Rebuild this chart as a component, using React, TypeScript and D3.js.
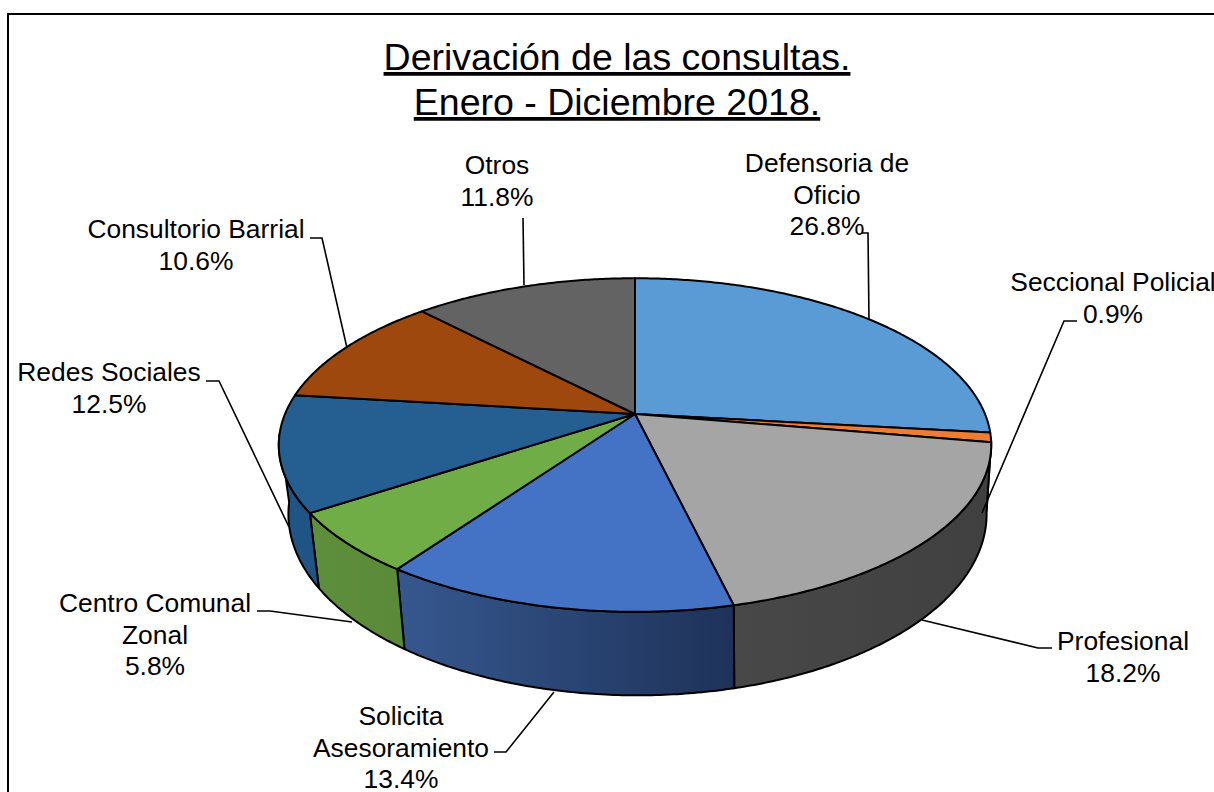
import React from "react";
import * as d3 from "d3";

const titleLines = ["Derivación de las consultas.", "Enero - Diciembre 2018."];
const categories = ["Defensoria de Oficio", "Seccional Policial", "Profesional", "Solicita Asesoramiento", "Centro Comunal Zonal", "Redes Sociales", "Consultorio Barrial", "Otros"];
const values = [26.8, 0.9, 18.2, 13.4, 5.8, 12.5, 10.6, 11.8];
const topColors = ["#5B9BD5", "#ED7D31", "#A5A5A5", "#4472C4", "#70AD47", "#255E91", "#9E480E", "#636363"];
const wallLeft = ["#3d6a94", "#8a4a1c", "#484848", "#36588f", "#5e8f3c", "#1f5485", "#6e320a", "#454545"];
const wallRight = ["#3d6a94", "#8a4a1c", "#404040", "#1e3259", "#5a8a38", "#1f5485", "#6e320a", "#454545"];

const labelLines = [
  ["Defensoria de", "Oficio", "26.8%"],
  ["Seccional Policial", "0.9%"],
  ["Profesional", "18.2%"],
  ["Solicita", "Asesoramiento", "13.4%"],
  ["Centro Comunal", "Zonal", "5.8%"],
  ["Redes Sociales", "12.5%"],
  ["Consultorio Barrial", "10.6%"],
  ["Otros", "11.8%"],
];
const labelPos = [
  [827, 172], [1113, 291], [1123, 650], [401, 725], [155, 612], [109, 381], [196, 238], [497, 174],
];
const leaders = [
  [[862, 233], [868, 233], [869, 320]],
  [[1077, 321], [1064, 321], [982, 513]],
  [[1052, 648], [1038, 648], [922, 620]],
  [[494, 752], [506, 752], [554, 692]],
  [[257, 611], [270, 611], [352, 622]],
  [[206, 381], [219, 381], [289, 527]],
  [[310, 238], [322, 238], [347, 348]],
  [[523, 218], [523, 218], [524, 285]],
];

const hubX = 635, hubY = 414;
const persp = 0.186, scaleX = 350, scaleY = 161;
const rad = Math.PI / 180;
// Excel's 3D view bends the slice angles a little: nominal angle -> drawn angle (degrees)
const viewAngle = d3.scaleLinear()
  .domain([0, 96.5, 165.2, 213.5, 234.4, 279.4, 317.5, 360].map((d) => d * rad))
  .range([0, 96.5, 166.6, 215.2, 236.5, 276.9, 316.3, 360].map((d) => d * rad));

function top(theta: number): [number, number] {
  const u = Math.sin(theta), v = -Math.cos(theta), w = 1 - persp * v;
  return [hubX + (scaleX * u) / w, hubY + (scaleY * v) / w];
}
function bottom(theta: number): [number, number] {
  const [x, y] = top(theta);
  return [637.5 + (x - hubX) * 0.98, 480.5 + (y - hubY) * 1.086];
}
const sample = (a: number, b: number) => {
  const n = Math.max(2, Math.ceil(Math.abs(b - a) / 0.01));
  return d3.range(n + 1).map((i) => a + ((b - a) * i) / n);
};
const line = d3.line();
const wallStart = 99 * rad, wallEnd = 263 * rad;

export default function App() {
  const arcs = d3.pie<number>().sort(null).startAngle(0).endAngle(2 * Math.PI)(values)
    .map((a) => ({ ...a, startAngle: viewAngle(a.startAngle), endAngle: viewAngle(a.endAngle) }));
  const fontFamily = "'Liberation Sans', Arial, sans-serif";
  const walls = arcs
    .map((a, i) => ({ i, a0: Math.max(a.startAngle, wallStart), a1: Math.min(a.endAngle, wallEnd) }))
    .filter((d) => d.a1 > d.a0);
  return (
    <svg width={1214} height={792} style={{ position: "absolute", left: 0, top: 0, background: "#fff" }} fontFamily={fontFamily}>
      <defs>
        {walls.map((d) => {
          const xs = [...sample(d.a0, d.a1).map((t) => top(t)[0]), ...sample(d.a0, d.a1).map((t) => bottom(t)[0])];
          return (
            <linearGradient key={d.i} id={`wall${d.i}`} gradientUnits="userSpaceOnUse" x1={d3.min(xs)} x2={d3.max(xs)} y1={0} y2={0}>
              <stop offset="0" stopColor={wallLeft[d.i]} />
              <stop offset="1" stopColor={wallRight[d.i]} />
            </linearGradient>
          );
        })}
      </defs>
      <rect x={8} y={14} width={1300} height={900} fill="#fff" stroke="#000" strokeWidth={2} />
      {walls.map((d) => {
        const ts = sample(d.a0, d.a1);
        const pts = [...ts.map(top), ...[...ts].reverse().map(bottom)];
        return <path key={d.i} d={line(pts)! + "Z"} fill={`url(#wall${d.i})`} stroke="#000" strokeWidth={2} strokeLinejoin="round" />;
      })}
      {arcs.map((a, i) => {
        const pts: [number, number][] = [[hubX, hubY], ...sample(a.startAngle, a.endAngle).map(top)];
        return <path key={i} d={line(pts)! + "Z"} fill={topColors[i]} stroke="#000" strokeWidth={2} strokeLinejoin="round" />;
      })}
      {leaders.map((l, i) => (
        <path key={i} d={line(l as [number, number][])!} fill="none" stroke="#000" strokeWidth={1.6} />
      ))}
      {titleLines.map((t, i) => (
        <text key={i} x={617} y={70 + i * 45} textAnchor="middle" fontSize={37.5} textDecoration="underline" fill="#000">{t}</text>
      ))}
      {labelLines.map((lines, i) =>
        lines.map((t, j) => (
          <text key={`${i}-${j}`} x={labelPos[i][0]} y={labelPos[i][1] + j * 31.5} textAnchor="middle" fontSize={26.4} fill="#000">{t}</text>
        ))
      )}
    </svg>
  );
}
